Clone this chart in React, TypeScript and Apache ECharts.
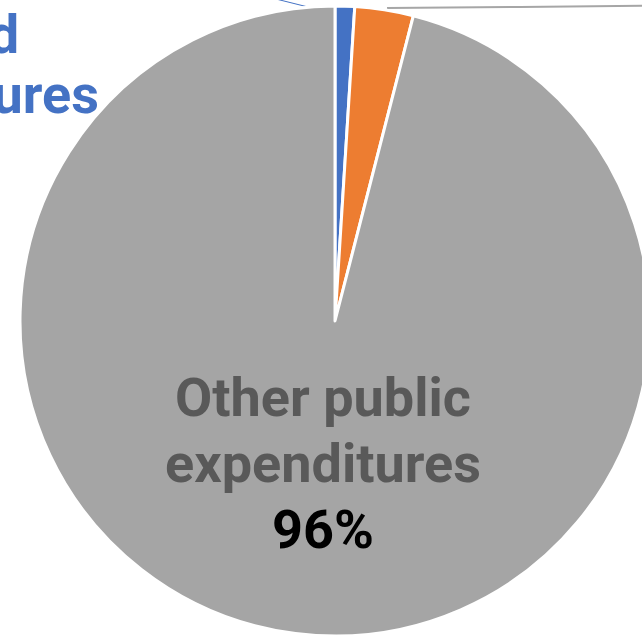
import React, { useEffect, useRef } from 'react';
import * as echarts from 'echarts';

const categories = ['Food\nexpenditures', 'Agricultural\nexpenditures', 'Other public\nexpenditures'];
const shares = [1, 3, 96];
const sliceColors = ['#4472C4', '#ED7D31', '#A5A5A5'];

export default function App() {
  const ref = useRef<HTMLDivElement>(null);
  useEffect(() => {
    const chart = echarts.init(ref.current!, null, { renderer: 'svg' });
    const baseFont = { fontFamily: 'Roboto', fontWeight: 'bold' as const, fontSize: 54 };
    chart.setOption({
      animation: false,
      series: [
        {
          type: 'pie',
          center: [335, 321],
          radius: 315,
          startAngle: 90,
          clockwise: true,
          avoidLabelOverlap: false,
          itemStyle: { borderColor: '#ffffff', borderWidth: 3 },
          data: categories.map((c, i) => {
            const item: any = { name: c, value: shares[i], itemStyle: { color: sliceColors[i] } };
            if (i === 0) {
              const lines = c.split('\n');
              item.label = {
                show: true,
                position: 'outside',
                formatter: () => `{a|${lines[0]}}\n{b|${lines[1]}}`,
                align: 'center',
                rich: {
                  a: { ...baseFont, color: '#4472C4', lineHeight: 60, align: 'center', padding: [0, 0, 0, 36] },
                  b: { ...baseFont, color: '#4472C4', lineHeight: 60, align: 'center' },
                },
              };
              item.labelLine = { show: true, lineStyle: { color: '#4472C4', width: 1 } };
            } else if (i === 1) {
              item.label = { show: true, position: 'outside', formatter: (p: any) => `${p.name}\n${p.value}%`, color: '#ED7D31', lineHeight: 62, ...baseFont };
              item.labelLine = { show: true, lineStyle: { color: '#A6A6A6', width: 2 } };
            } else {
              item.label = {
                show: true,
                position: 'inside',
                formatter: (p: any) => `{n|${p.name}}\n{p|${p.value}%}`,
                align: 'center',
                rich: {
                  n: { ...baseFont, color: '#595959', lineHeight: 66, align: 'center' },
                  p: { ...baseFont, color: '#000000', lineHeight: 66, align: 'center' },
                },
              };
              item.labelLine = { show: false };
            }
            return item;
          }),
          labelLayout: (params: any) => {
            if (params.dataIndex === 2) {
              return { x: 323, y: 463, align: 'center', verticalAlign: 'middle' };
            }
            if (params.dataIndex === 0) {
              return {
                x: -59,
                y: 64,
                align: 'center',
                verticalAlign: 'middle',
                labelLinePoints: [[312, 8], [280, 0], [150, -33]],
              };
            }
            return {
              x: 720,
              y: 6,
              align: 'left',
              verticalAlign: 'middle',
              labelLinePoints: [[387, 8], [520, 7], [710, 5]],
            };
          },
        },
      ],
    });
    return () => chart.dispose();
  }, []);
  return <div ref={ref} style={{ position: 'absolute', left: 0, top: 0, width: 642, height: 638 }} />;
}
